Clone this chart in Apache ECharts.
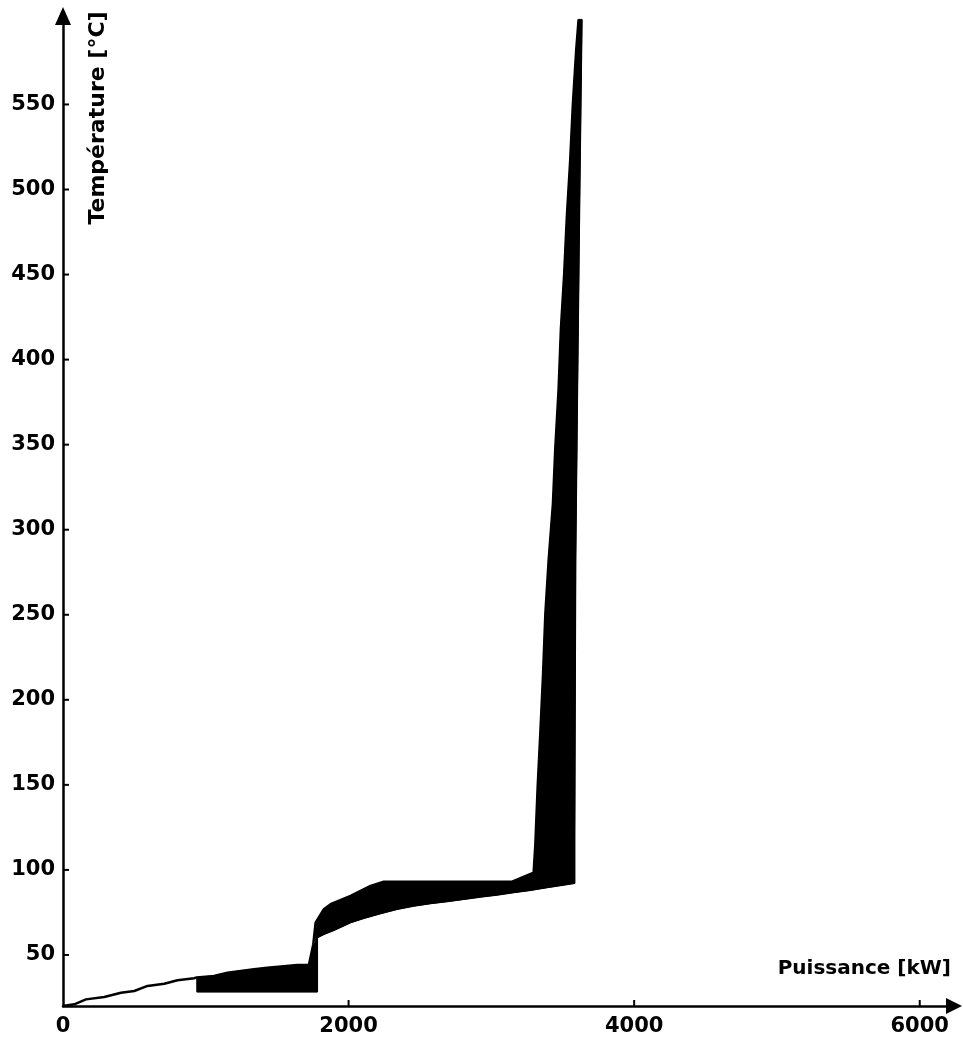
<!DOCTYPE html>
<html>
<head>
<meta charset="utf-8">
<script src="https://cdn.jsdelivr.net/npm/echarts@6/dist/echarts.min.js"></script>
<style>
html,body{margin:0;padding:0;background:#fff;}
#chart{width:963px;height:1044px;}
</style>
</head>
<body>
<div id="chart"></div>
<script>
// Hot composite curve (upper / left boundary)
var hotX = [0, 79, 161, 289, 406, 499, 592, 709, 802, 918, 937, 1058, 1152, 1338, 1431, 1641, 1722, 1753, 1766, 1769, 1827, 1874, 2014, 2154, 2247, 3145, 3296, 3308, 3324, 3343, 3362, 3378, 3401, 3431, 3448, 3471, 3487, 3510, 3529, 3552, 3571, 3594, 3611];
var hotY = [20, 21, 23.9, 25.3, 27.8, 28.8, 31.8, 33.1, 35.1, 36.3, 36.8, 37.6, 39.6, 41.6, 42.5, 44.1, 44.1, 56.3, 57, 69, 76.9, 79.8, 84.7, 90.6, 93.1, 93.1, 98.4, 115, 148.4, 180.8, 215, 250.4, 281.8, 315, 348.4, 382.8, 418, 450.4, 484.7, 517, 550.4, 581.8, 600];
// Cold composite curve (lower / right boundary)
var coldX = [937, 1781, 1781, 1827, 1897, 2014, 2107, 2224, 2340, 2457, 2573, 2690, 2806, 2923, 3040, 3156, 3273, 3389, 3506, 3583, 3583, 3590, 3602, 3618, 3634];
var coldY = [28.4, 28.4, 60.2, 62.2, 64.5, 69, 71.6, 74.3, 76.9, 78.8, 80.2, 81.4, 82.7, 84.1, 85.3, 86.7, 88, 89.6, 91.2, 92.2, 120, 282, 376, 494, 600];
var xTicks = [0, 2000, 4000, 6000];
var yTicks = [50, 100, 150, 200, 250, 300, 350, 400, 450, 500, 550];
var xTitle = 'Puissance [kW]';
var yTitle = 'Température [°C]';
var bandStart = 937;
var X_MIN = 0, Y_MIN = 20;

var hotData = hotX.map(function (x, i) { return [x, hotY[i]]; });
var coldData = coldX.map(function (x, i) { return [x, coldY[i]]; });
var tickData = yTicks.map(function (v) { return [X_MIN, v, 0]; })
  .concat(xTicks.slice(1).map(function (v) { return [v, Y_MIN, 1]; }));

var chart = echarts.init(document.getElementById('chart'), null, {renderer: 'canvas'});
var FONT = '"DejaVu Sans", sans-serif';
var TICK_LEN = 6;

chart.setOption({
  animation: false,
  backgroundColor: '#fff',
  grid: {left: 63, right: 9, top: 16, bottom: 38, containLabel: false},
  xAxis: {
    type: 'value', min: X_MIN, max: 6240,
    axisLine: {show: true, onZero: false, lineStyle: {color: '#000', width: 2.5},
      symbol: ['none', 'triangle'], symbolSize: [16, 16]},
    axisTick: {show: false},
    axisLabel: {customValues: xTicks, color: '#000', fontFamily: FONT, fontWeight: 'bold', fontSize: 21, margin: 10,
      formatter: function (v) { return String(v); }},
    splitLine: {show: false}
  },
  yAxis: {
    type: 'value', min: Y_MIN, max: 602,
    axisLine: {show: true, onZero: false, lineStyle: {color: '#000', width: 2.5},
      symbol: ['none', 'triangle'], symbolSize: [16, 18]},
    axisTick: {show: false},
    axisLabel: {customValues: yTicks, color: '#000', fontFamily: FONT, fontWeight: 'bold', fontSize: 21, margin: 8,
      formatter: function (v) { return String(v); }},
    splitLine: {show: false}
  },
  graphic: [
    {type: 'text', right: 12, top: 959, style: {text: xTitle, font: 'bold 20px ' + FONT, fill: '#000'}},
    {type: 'text', x: 98, y: 118, rotation: Math.PI / 2,
      style: {text: yTitle, font: 'bold 22px ' + FONT, fill: '#000',
        textAlign: 'center', textVerticalAlign: 'middle', align: 'center', verticalAlign: 'middle'}}
  ],
  series: [
    {
      type: 'custom',
      coordinateSystem: 'cartesian2d',
      data: [[bandStart, coldY[0]]],
      clip: false,
      renderItem: function (params, api) {
        var pts = [];
        for (var i = 0; i < hotData.length; i++) {
          if (hotData[i][0] >= bandStart) pts.push(api.coord(hotData[i]));
        }
        for (var j = coldData.length - 1; j >= 0; j--) pts.push(api.coord(coldData[j]));
        return {
          type: 'polygon',
          shape: {points: pts},
          style: {fill: '#000', stroke: '#000', lineWidth: 1}
        };
      },
      z: 3
    },
    {
      type: 'line', data: hotData, showSymbol: false, symbol: 'none',
      lineStyle: {color: '#000', width: 2.5}, z: 4
    },
    {
      type: 'line', data: coldData, showSymbol: false, symbol: 'none',
      lineStyle: {color: '#000', width: 1.5}, z: 4
    },
    {
      // inward tick marks on both axes
      type: 'custom',
      coordinateSystem: 'cartesian2d',
      data: tickData,
      clip: false,
      silent: true,
      renderItem: function (params, api) {
        var p = api.coord([api.value(0), api.value(1)]);
        var isX = api.value(2) === 1;
        var x2 = isX ? p[0] : p[0] + TICK_LEN;
        var y2 = isX ? p[1] - TICK_LEN : p[1];
        return {
          type: 'line',
          shape: {x1: p[0], y1: p[1], x2: x2, y2: y2},
          style: {stroke: '#000', lineWidth: 2}
        };
      },
      z: 5
    }
  ]
});
</script>
</body>
</html>
